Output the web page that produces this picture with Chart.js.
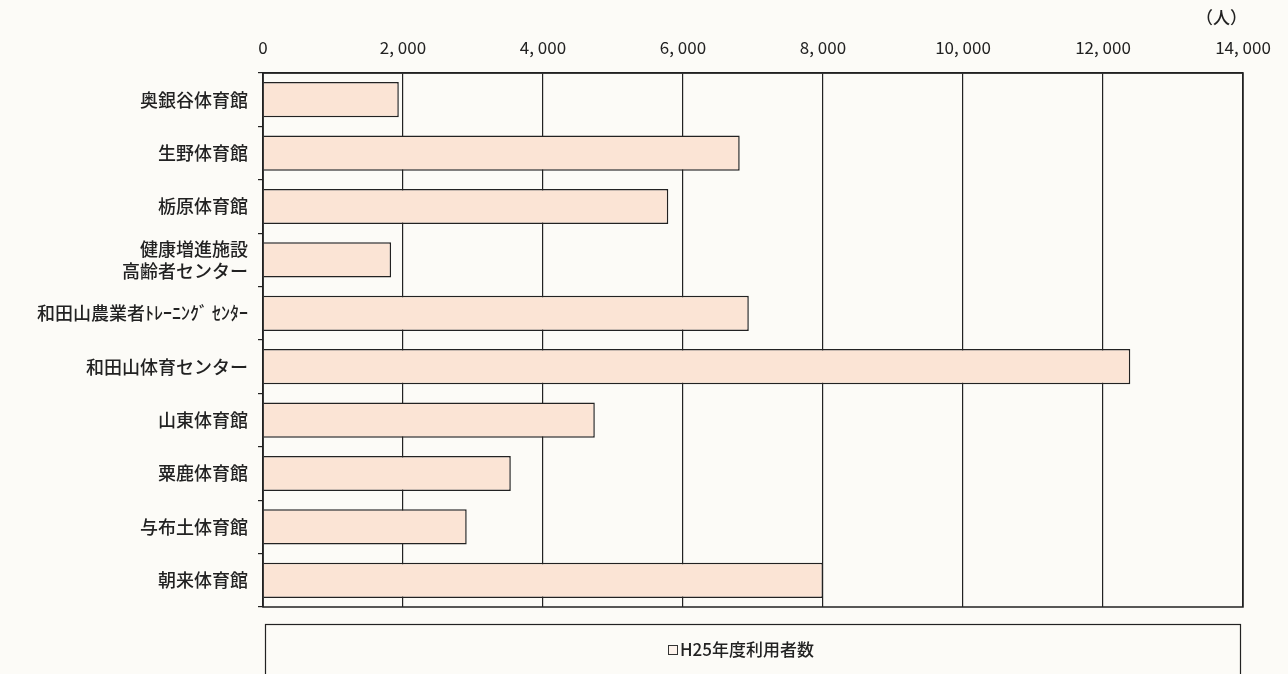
<!DOCTYPE html>
<html>
<head>
<meta charset="utf-8">
<script src="https://cdn.jsdelivr.net/npm/chart.js@4"></script>
<style>
  html, body { margin: 0; padding: 0; background: #fcfbf7; }
  #wrap { width: 1288px; height: 674px; }
</style>
</head>
<body>
<div id="wrap"><canvas id="myChart" width="1288" height="674"></canvas></div>
<script>
//! Les données.

const shisetsu = [
  '奥銀谷体育館',
  '生野体育館',
  '栃原体育館',
  ['健康増進施設', '高齢者センター'],
  '和田山農業者ﾄﾚｰﾆﾝｸﾞ ｾﾝﾀｰ',
  '和田山体育センター',
  '山東体育館',
  '粟鹿体育館',
  '与布土体育館',
  '朝来体育館',
];
const riyoshaH25 = [1940, 6810, 5790, 1830, 6940, 12390, 4740, 3540, 2910, 8000];
const serieLabel = 'H25年度利用者数';
const unite = '（人）';

const fontJp = '"Noto Sans CJK JP", "Noto Sans", sans-serif';

//! --------------------------------------------------------------

//! Cadre + légende + unité.

const cadrePlugin = {
  id: 'cadre',
  afterDraw(chart) {
    const { ctx, chartArea: a } = chart;
    ctx.save();
    ctx.strokeStyle = '#222';
    ctx.lineWidth = 1.5;
    ctx.strokeRect(a.left, a.top, a.right - a.left, a.bottom - a.top);

    // légende
    ctx.lineWidth = 1.2;
    ctx.strokeRect(265.5, 624.5, 975, 70);
    ctx.fillStyle = '#fdf3ec';
    ctx.fillRect(668, 645, 10, 10);
    ctx.strokeStyle = '#333';
    ctx.lineWidth = 1;
    ctx.strokeRect(668.5, 645.5, 9, 9);
    ctx.fillStyle = '#222';
    ctx.font = '500 17px ' + fontJp;
    ctx.textBaseline = 'middle';
    ctx.fillText(serieLabel, 680, 650);

    // unité
    ctx.font = '500 17px ' + fontJp;
    ctx.fillText(unite, 1196, 18);
    ctx.restore();
  },
};

const data = {
  labels: shisetsu,
  datasets: [
    {
      label: serieLabel,
      data: riyoshaH25,
      backgroundColor: '#fbe4d5',
      borderColor: '#222',
      borderWidth: 1.5,
      barPercentage: 0.66,
      categoryPercentage: 1,
    },
  ],
};

let options = {
  indexAxis: 'y',
  responsive: false,
  animation: false,
  layout: { padding: { left: 8, right: 45, top: 10, bottom: 67 } },
  plugins: { legend: { display: false }, tooltip: { enabled: false } },
  scales: {
    x: {
      position: 'top',
      min: 0,
      max: 14000,
      ticks: {
        stepSize: 2000,
        color: '#222',
        padding: 15,
        font: { family: fontJp, size: 17 },
        callback: (v) => v.toLocaleString('en-US').replace(',', ', '),
      },
      grid: { color: '#222', lineWidth: 1.2, drawTicks: false },
      border: { color: '#222', width: 1.5 },
      afterFit(scale) {
        scale.height = 63;
      },
    },
    y: {
      ticks: {
        color: '#222',
        padding: 10,
        font: { family: fontJp, size: 18, weight: '500', lineHeight: 1.2 },
      },
      grid: {
        drawOnChartArea: false,
        drawTicks: true,
        tickLength: 5,
        color: '#222',
        lineWidth: 1.2,
      },
      border: { color: '#222', width: 1.5 },
      afterFit(scale) {
        scale.width = 255;
      },
    },
  },
};

const config = { type: 'bar', data, options, plugins: [cadrePlugin] };
const myChart = new Chart(document.getElementById('myChart'), config);
</script>
</body>
</html>
